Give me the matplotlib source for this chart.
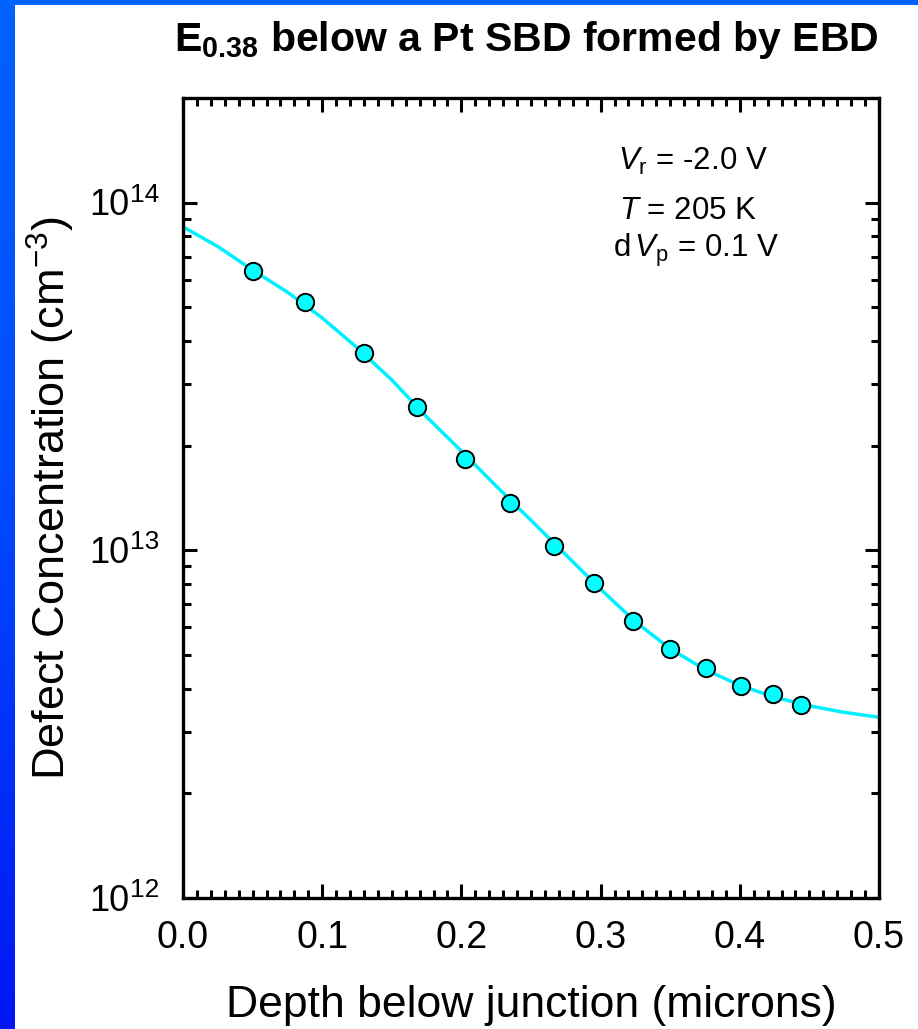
import numpy as np
import matplotlib
matplotlib.use("Agg")
import matplotlib.pyplot as plt
from matplotlib.ticker import MultipleLocator, LogLocator, NullFormatter
from matplotlib.patches import Rectangle
from matplotlib.colors import LinearSegmentedColormap

plt.rcParams['font.family'] = ['Liberation Sans', 'DejaVu Sans']
plt.rcParams['mathtext.fontset'] = 'custom'
plt.rcParams['mathtext.rm'] = 'Liberation Sans'
plt.rcParams['mathtext.it'] = 'Liberation Sans:italic'
plt.rcParams['mathtext.bf'] = 'Liberation Sans:bold'

# Measured defect concentration profile (depth in microns, concentration in cm^-3)
depth = [0.0504, 0.0878, 0.130, 0.168, 0.2025, 0.235, 0.2665,
         0.2955, 0.323, 0.350, 0.376, 0.401, 0.424, 0.444]
conc = [6.38e13, 5.19e13, 3.70e13, 2.58e13, 1.83e13, 1.37e13, 1.03e13,
        8.05e12, 6.25e12, 5.20e12, 4.58e12, 4.06e12, 3.85e12, 3.59e12]

# Fitted profile
fit_depth = [0.000, 0.025, 0.050, 0.075, 0.100, 0.125, 0.150, 0.175, 0.200,
             0.225, 0.250, 0.275, 0.300, 0.325, 0.350, 0.375, 0.400, 0.425,
             0.450, 0.475, 0.500]
fit_conc = [8.52e13, 7.48e13, 6.40e13, 5.53e13, 4.66e13, 3.83e13, 3.09e13,
            2.42e13, 1.93e13, 1.53e13, 1.22e13, 9.71e12, 7.73e12, 6.23e12,
            5.21e12, 4.54e12, 4.09e12, 3.78e12, 3.57e12, 3.42e12, 3.31e12]

x_ticks = [0.0, 0.1, 0.2, 0.3, 0.4, 0.5]
x_tick_labels = ['0.0', '0.1', '0.2', '0.3', '0.4', '0.5']
y_ticks = [1e12, 1e13, 1e14]
y_tick_exponents = ['12', '13', '14']

W, H = 918, 1029
fig = plt.figure(figsize=(W / 100, H / 100), dpi=100)
fig.patch.set_facecolor('white')

# Slide border: blue gradient strip on the left, thin band on top
band = fig.add_axes([0, 0, 15 / W, 1])
grad = np.linspace(0, 1, 256).reshape(-1, 1)
cmap = LinearSegmentedColormap.from_list('slide', ['#0062ff', '#0048ff', '#0016f5'])
band.imshow(grad, aspect='auto', cmap=cmap, extent=[0, 1, 0, 1], origin='upper')
band.set_axis_off()
fig.patches.append(Rectangle((0, 1 - 5 / H), 1, 5 / H, transform=fig.transFigure,
                             facecolor='#0062ff', edgecolor='none', zorder=5))

ax = fig.add_axes([183 / W, 1 - 898 / H, (879 - 183) / W, (898 - 98) / H])
ax.set_yscale('log')
ax.plot(fit_depth, fit_conc, color='#00f0ff', lw=2.5, zorder=2)
ax.plot(depth, conc, 'o', ms=12.5, mfc='#00ffff', mec='black', mew=1.4, zorder=3)

ax.set_xlim(0, 0.5)
ax.set_ylim(1e12, 2e14)
ax.set_xticks(x_ticks)
ax.set_xticklabels(x_tick_labels)
ax.xaxis.set_minor_locator(MultipleLocator(0.01))
ax.set_yticks(y_ticks)
ax.yaxis.set_minor_locator(LogLocator(base=10, subs=np.arange(2, 10), numticks=20))
ax.yaxis.set_minor_formatter(NullFormatter())
ax.tick_params(which='both', direction='in', top=True, right=True, width=2.2,
               labelleft=False, labelsize=27, pad=16)
ax.tick_params(which='major', length=10)
ax.tick_params(which='minor', length=5.5)
for s in ax.spines.values():
    s.set_linewidth(2.4)

# Decade labels on the log axis
for v, e in zip(y_ticks, y_tick_exponents):
    ax.annotate('10', xy=(0, v), xycoords=('axes fraction', 'data'),
                xytext=(-54 * 0.72, -12.5 * 0.72), textcoords='offset points',
                ha='right', va='baseline', fontsize=26, annotation_clip=False)
    ax.annotate(e, xy=(0, v), xycoords=('axes fraction', 'data'),
                xytext=(-53 * 0.72, 1 * 0.72), textcoords='offset points',
                ha='left', va='baseline', fontsize=19, annotation_clip=False)

ax.set_xlabel('Depth below junction (microns)', fontsize=32, labelpad=21)
ax.set_ylabel(r'Defect Concentration (cm$^{\mathregular{-3}}$)', fontsize=32.5, labelpad=76)

# Measurement conditions
ax.text(618 / W, 1 - 170 / H, r'$V_\mathrm{r}$ = -2.0 V', transform=fig.transFigure,
        fontsize=22.5, ha='left', va='baseline')
ax.text(619 / W, 1 - 219 / H, r'$T$ = 205 K', transform=fig.transFigure,
        fontsize=22.5, ha='left', va='baseline')
ax.text(613 / W, 1 - 257 / H, r'd$\,V_\mathrm{p}$ = 0.1 V', transform=fig.transFigure,
        fontsize=22.5, ha='left', va='baseline')

fig.text(526 / W, 1 - 51 / H, r'$\mathbf{E}_{\mathbf{0.38}}$ below a Pt SBD formed by EBD',
         fontsize=29.5, fontweight='bold', ha='center', va='baseline')

fig.savefig('out.png', dpi=100)
